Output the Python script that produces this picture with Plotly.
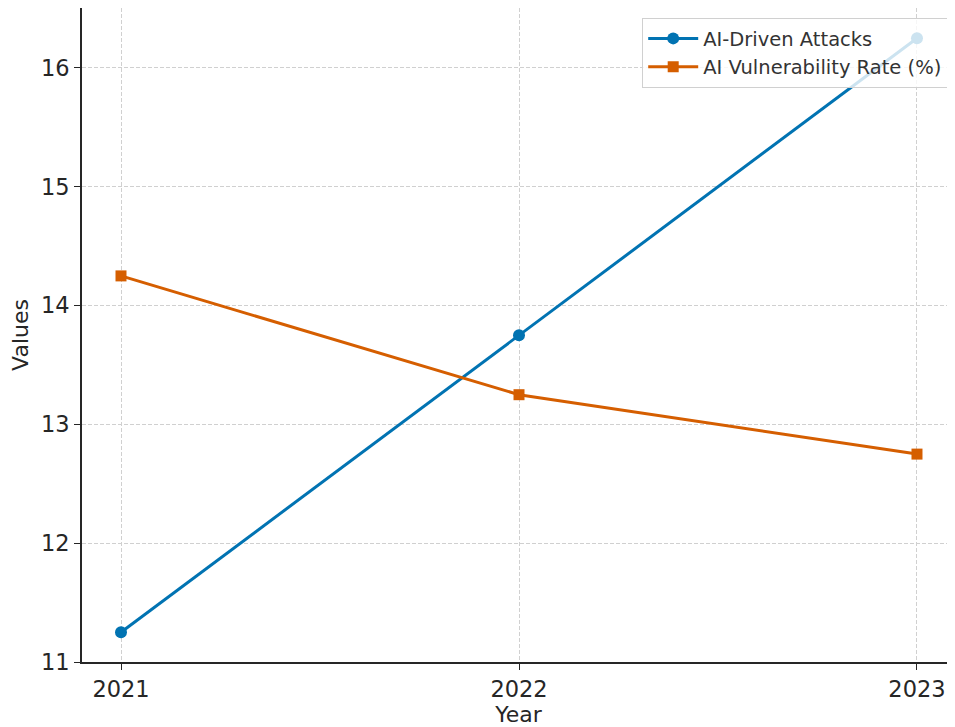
import plotly.graph_objects as go

years = [2021, 2022, 2023]
attacks = [11.25, 13.75, 16.25]
vuln_rate = [14.25, 13.25, 12.75]
y_ticks = [11, 12, 13, 14, 15, 16]

# the page shows the figure offset by ~8px, so compensate
OFF = 8
W, H = 955 - OFF, 727 - OFF
L, R, T, B = 82 - OFF, 955 - OFF, 8 - OFF, 662 - OFF

fig = go.Figure()
fig.add_trace(go.Scatter(x=years, y=attacks, mode="lines+markers", name="AI-Driven Attacks",
                         line=dict(color="#0173B2", width=3),
                         marker=dict(symbol="circle", size=12, color="#0173B2")))
fig.add_trace(go.Scatter(x=years, y=vuln_rate, mode="lines+markers", name="AI Vulnerability Rate (%)",
                         line=dict(color="#D55E00", width=3),
                         marker=dict(symbol="square", size=11, color="#D55E00")))

axis_common = dict(showline=True, linecolor="#262626", linewidth=1.7, ticks="outside",
                   ticklen=6, tickwidth=1.4, tickcolor="#262626",
                   showgrid=True, gridcolor="#d0d0d0", griddash="4px,2px", gridwidth=1,
                   zeroline=False, tickfont=dict(family="DejaVu Sans", size=22.5, color="#262626"),
                   title_font=dict(family="DejaVu Sans", size=22, color="#262626"), mirror=False)

fig.update_layout(
    width=W, height=H,
    margin=dict(l=L, r=W - R, t=T, b=H - B, autoexpand=False),
    paper_bgcolor="white", plot_bgcolor="white",
    font=dict(family="DejaVu Sans", color="#262626"),
    xaxis=dict(range=[2020.902, 2023.0955], tickvals=years, ticktext=[str(y) for y in years],
               title=dict(text="Year", standoff=6), **axis_common),
    yaxis=dict(range=[11.0, 16.505], tickvals=y_ticks, title=dict(text="Values", standoff=10),
               **axis_common),
    legend=dict(x=(948 - OFF - L) / (R - L), xanchor="right",
                y=(B - (18 - OFF)) / (B - T), yanchor="top",
                bgcolor="rgba(255,255,255,0.8)", bordercolor="#d0d0d0", borderwidth=1.2,
                font=dict(family="DejaVu Sans", size=19.5, color="#333333"),
                itemwidth=50),
    showlegend=True,
)

fig.write_html("out.html")
